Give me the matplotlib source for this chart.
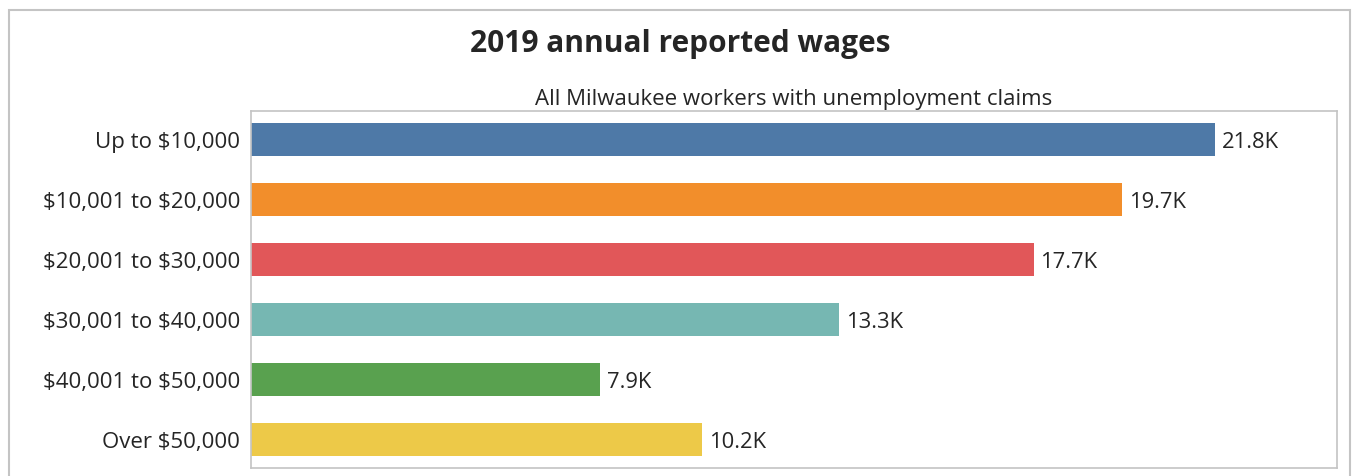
import matplotlib
matplotlib.use("Agg")
import matplotlib.pyplot as plt
from matplotlib.patches import Rectangle

categories = ["Up to $10,000", "$10,001 to $20,000", "$20,001 to $30,000",
              "$30,001 to $40,000", "$40,001 to $50,000", "Over $50,000"]
workers_k = [21.8, 19.7, 17.7, 13.3, 7.9, 10.2]
bar_colors = ["#4e79a7", "#f28e2b", "#e15759", "#76b7b2", "#59a14f", "#edc948"]

plt.rcParams["font.family"] = ["Open Sans", "DejaVu Sans"]
plt.rcParams["text.parse_math"] = False

W, H = 1353, 476
fig = plt.figure(figsize=(W / 100, H / 100), dpi=100)

# outer frame around the chart
fig.patches.append(Rectangle((9 / W, -0.05), (1350 - 9) / W, 1.05 - 10 / H,
                             transform=fig.transFigure, fill=False,
                             edgecolor="#c4c4c4", linewidth=1.5))

ax = fig.add_axes([251 / W, 1 - 468 / H, (1337 - 251) / W, (468 - 111) / H])
y = list(range(len(categories)))
ax.barh(y, workers_k, height=0.55, color=bar_colors)
for yi, v in zip(y, workers_k):
    ax.text(v + 0.15, yi, f"{v:.1f}K", va="center_baseline", ha="left",
            fontsize=15.8, color="#252525")

ax.set_xlim(0, 24.56)
ax.set_ylim(5.47, -0.48)
ax.set_yticks(y)
ax.set_yticklabels(categories, fontsize=16, color="#252525",
                   va="center_baseline")
ax.tick_params(axis="y", length=0, pad=8)
ax.set_xticks([])
for s in ax.spines.values():
    s.set_color("#c4c4c4")
    s.set_linewidth(1.2)

fig.text(680 / W, 1 - 44 / H, "2019 annual reported wages", ha="center",
         va="center", fontsize=21.5, fontweight="bold", color="#252525")
fig.text(794 / W, 1 - 99 / H, "All Milwaukee workers with unemployment claims",
         ha="center", va="center", fontsize=16, color="#252525")

fig.savefig("out.png", dpi=100)
